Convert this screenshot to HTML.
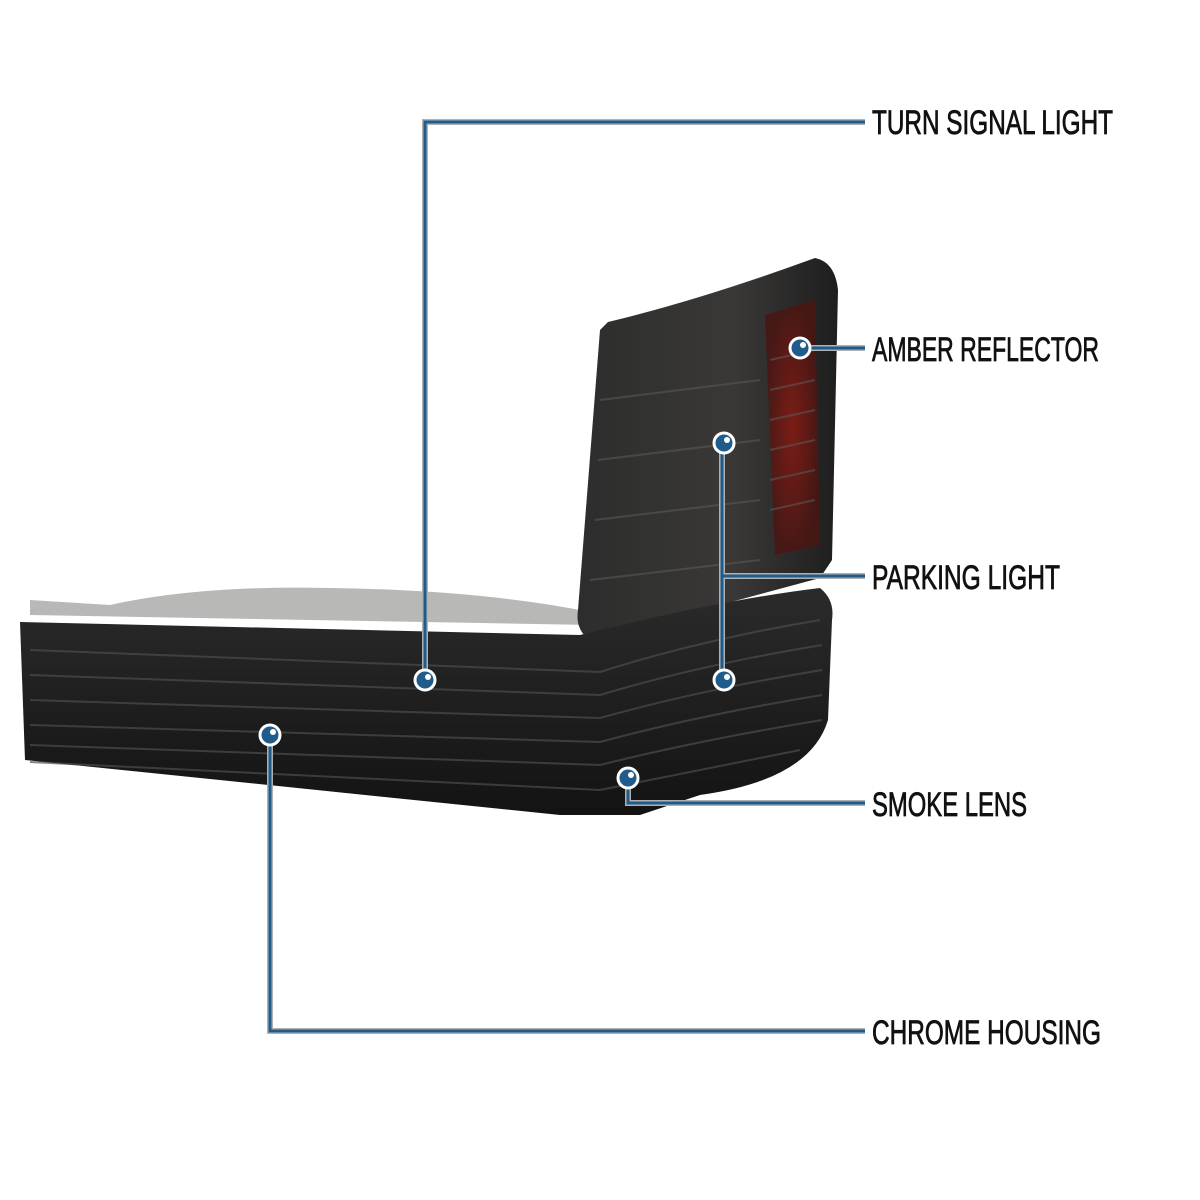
<!DOCTYPE html>
<html><head><style>body{margin:0;background:#fff}svg{display:block}</style></head><body>
<svg width="1200" height="1200" viewBox="0 0 1200 1200" xmlns="http://www.w3.org/2000/svg">
<defs>
<linearGradient id="g1" x1="0" y1="0" x2="0" y2="1"><stop offset="0" stop-color="#2a2b2a"/><stop offset="0.5" stop-color="#1e1f1e"/><stop offset="1" stop-color="#121312"/></linearGradient>
<linearGradient id="g2" x1="0" y1="0" x2="1" y2="0"><stop offset="0" stop-color="#2c2d2c"/><stop offset="0.6" stop-color="#3a3837"/><stop offset="1" stop-color="#1e1e1e"/></linearGradient>
<radialGradient id="red" cx="0.5" cy="0.5" r="0.5"><stop offset="0" stop-color="#8a1a12"/><stop offset="1" stop-color="#4a1512"/></radialGradient>
</defs>
<path d="M30,600 L110,605 Q200,585 330,588 Q480,590 590,612 L590,625 L30,615 Z" fill="#b8b8b6"/>
<path d="M608,322 Q700,300 815,258 Q835,262 838,290 L832,560 L820,578 L590,640 Q575,630 578,610 L600,330 Z" fill="url(#g2)"/>
<path d="M765,315 L815,300 L820,545 L775,555 Z" fill="url(#red)" opacity="0.85"/>
<g stroke="#5a5856" stroke-width="2" opacity="0.6">
<line x1="770" y1="360" x2="815" y2="350"/><line x1="770" y1="390" x2="815" y2="380"/><line x1="770" y1="420" x2="815" y2="410"/><line x1="770" y1="450" x2="815" y2="440"/><line x1="770" y1="480" x2="815" y2="470"/><line x1="770" y1="510" x2="815" y2="500"/>
<line x1="600" y1="400" x2="760" y2="380"/><line x1="598" y1="460" x2="760" y2="440"/><line x1="595" y1="520" x2="760" y2="500"/><line x1="590" y1="580" x2="760" y2="560"/>
</g>
<path d="M20,622 L580,635 Q720,600 820,588 Q835,600 832,620 L828,720 Q810,780 700,795 L640,815 L560,815 L25,760 Z" fill="url(#g1)"/>
<g stroke="#4c4d4b" stroke-width="2" opacity="0.7" fill="none">
<path d="M30,650 L600,672 Q700,640 820,620"/>
<path d="M30,675 L600,695 Q700,665 822,645"/>
<path d="M30,700 L600,718 Q700,690 822,670"/>
<path d="M30,725 L600,742 Q700,715 822,695"/>
<path d="M30,745 L600,765 Q700,740 822,720"/>
<path d="M30,762 L600,790 Q700,770 800,750"/>
</g>
<g fill="none">
<g stroke="#b0b0b0" stroke-width="6">
<polyline points="425,680 425,122 865,122"/>
<polyline points="800,348 865,348"/>
<polyline points="722,443 722,680"/><polyline points="722,576 865,576"/>
<polyline points="628,778 628,803 865,803"/>
<polyline points="270,735 270,1031 865,1031"/>
</g>
<g stroke="#1f5c8c" stroke-width="3">
<polyline points="425,680 425,122 865,122"/>
<polyline points="800,348 865,348"/>
<polyline points="722,443 722,680"/><polyline points="722,576 865,576"/>
<polyline points="628,778 628,803 865,803"/>
<polyline points="270,735 270,1031 865,1031"/>
</g>
</g>
<g fill="#1f5c8c" stroke="#fff" stroke-width="3">
<circle cx="425" cy="680" r="10"/><circle cx="800" cy="348" r="10"/><circle cx="724" cy="443" r="10"/><circle cx="724" cy="680" r="10"/><circle cx="628" cy="778" r="10"/><circle cx="270" cy="735" r="10"/>
</g>
<g fill="#fff">
<circle cx="428" cy="677" r="3"/><circle cx="803" cy="345" r="3"/><circle cx="727" cy="440" r="3"/><circle cx="727" cy="677" r="3"/><circle cx="631" cy="775" r="3"/><circle cx="273" cy="732" r="3"/>
</g>
<g font-family="'Liberation Sans Narrow','Liberation Sans',sans-serif" font-size="34" fill="#111" stroke="#111" stroke-width="0.8">
<text x="872" y="134" textLength="241" lengthAdjust="spacingAndGlyphs">TURN SIGNAL LIGHT</text>
<text x="872" y="361" textLength="227" lengthAdjust="spacingAndGlyphs">AMBER REFLECTOR</text>
<text x="872" y="589" textLength="188" lengthAdjust="spacingAndGlyphs">PARKING LIGHT</text>
<text x="872" y="816" textLength="155" lengthAdjust="spacingAndGlyphs">SMOKE LENS</text>
<text x="872" y="1044" textLength="229" lengthAdjust="spacingAndGlyphs">CHROME HOUSING</text>
</g>
</svg>
</body></html>
